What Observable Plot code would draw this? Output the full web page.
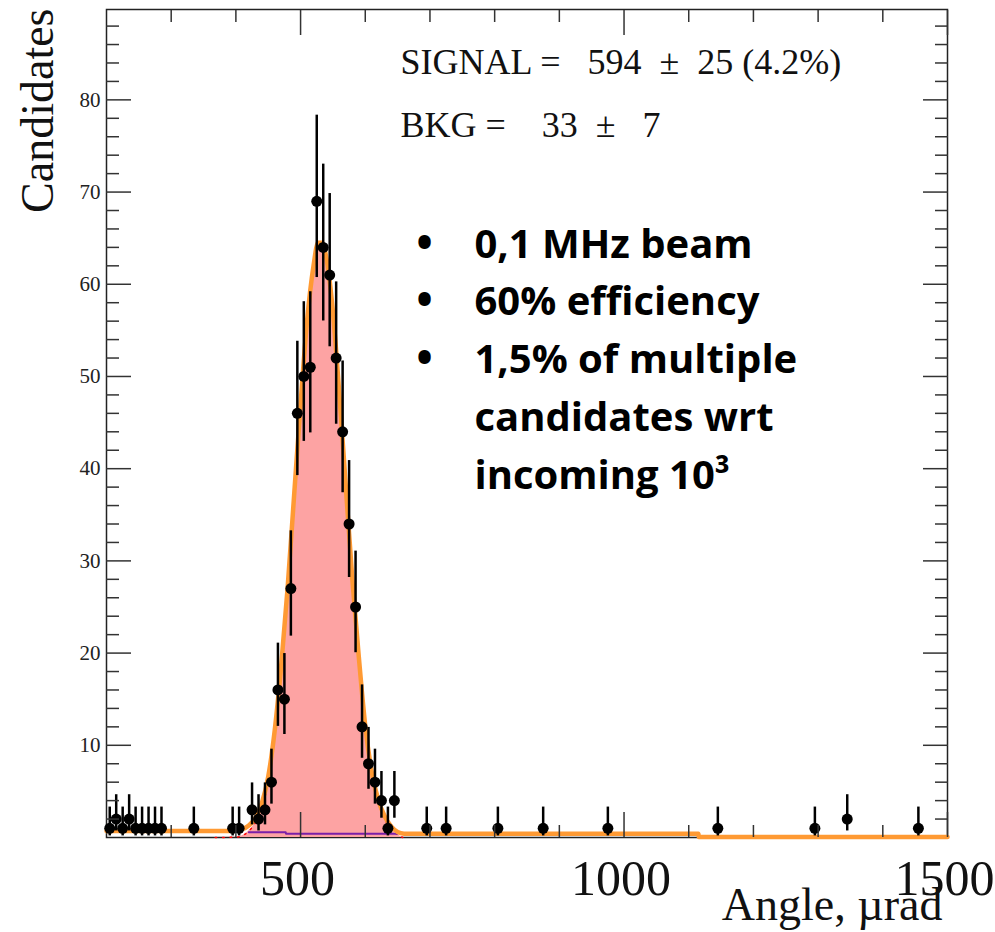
<!DOCTYPE html>
<html>
<head>
<meta charset="utf-8">
<script src="https://cdn.jsdelivr.net/npm/d3@7"></script>
<script src="https://cdn.jsdelivr.net/npm/@observablehq/plot@0.6"></script>
<style>
  html, body { margin: 0; padding: 0; background: white; }
</style>
</head>
<body>
<div id="chart"></div>
<script>
// ---- data ----
const binCenters = [205,215,225,235,245,255,265,275,285,335,395,405,425,435,445,455,465,475,485,495,505,515,525,535,545,555,565,575,585,595,605,615,625,635,645,695,725,805,875,975,1145,1295,1345,1455];
const counts     = [1,2,1,2,1,1,1,1,1,1,1,1,3,2,3,6,16,15,27,46,50,51,69,64,61,52,44,34,25,12,8,6,4,1,4,1,1,1,1,1,1,1,2,1];
// asymmetric (Poisson) error bar ends
const errLow  = [0.17,0.71,0.17,0.71,0.17,0.17,0.17,0.17,0.17,0.17,0.17,0.17,1.37,0.71,1.37,3.62,12.05,11.17,21.84,39.25,42.96,43.88,60.73,56.02,53.22,44.82,37.39,28.20,20.04,8.59,5.23,3.62,2.09,0.17,2.09,0.17,0.17,0.17,0.17,0.17,0.17,0.17,0.71,0.17];
const errHigh = [3.30,4.64,3.30,4.64,3.30,3.30,3.30,3.30,3.30,3.30,3.30,3.30,5.92,4.64,5.92,9.58,21.08,19.95,33.26,53.82,58.11,59.19,78.34,73.03,69.84,60.26,51.68,40.88,31.06,16.55,11.94,9.58,7.16,3.30,7.16,3.30,3.30,3.30,3.30,3.30,3.30,3.30,4.64,3.30];

// total fit curve (orange)
const fitX     = [200,395,410,420,430,440,450,460,470,480,490,500,510,520,527,533,540,550,560,570,580,590,600,610,620,630,640,650,660,680,1115,1115.5,1500];
const fitTotal = [0.7,0.7,0.9,1.3,2.1,3.7,6.6,11.6,18.6,27.1,37.1,47,56,62,64.5,64.5,62.8,57,48,38,28,19.6,12.1,7.1,4.1,2.3,1.2,0.6,0.42,0.4,0.4,0.05,0.05];

// signal component (pink fill)
const sigX = [368,400,410,420,430,440,450,460,470,480,490,500,510,520,527,533,540,550,560,570,580,590,600,610,620,630,640,650,658];
const sigY = [0,0.05,0.2,0.7,1.6,3.2,6.1,11.1,18.1,26.7,36.8,46.8,55.8,61.8,64.3,64.3,62.6,56.8,47.8,37.8,27.8,19.3,11.8,6.8,3.8,2.0,0.9,0.3,0];

// background component (purple)
const bkgX = [420,477,477.5,650];
const bkgY = [0.57,0.57,0.4,0.4];

// axes
const xMajor = [500,1000,1500];
const xMinor = [300,400,600,700,800,900,1100,1200,1300,1400];
const yMajor = [10,20,30,40,50,60,70,80];
const yMinor = [2,4,6,8,12,14,16,18,22,24,26,28,32,34,36,38,42,44,46,48,52,54,56,58,62,64,66,68,72,74,76,78,82,84,86,88];

// texts
const xTitle = "Angle, \u00B5rad";
const yTitle = "Candidates";
const signalText = "SIGNAL =   594  \u00B1  25 (4.2%)";
const bkgText = "BKG =    33  \u00B1   7";
const bulletLines = ["0,1 MHz beam", "60% efficiency", "1,5% of multiple", "candidates wrt", "incoming 10\u00B3"];
const bulletMarks = ["\u2022", "\u2022", "\u2022"];

const points = binCenters.map((x, i) => ({x, y: counts[i], lo: errLow[i], hi: errHigh[i]}));
const fit = fitX.map((x, i) => ({x, y: fitTotal[i]}));
const sig = sigX.map((x, i) => ({x, y: sigY[i]}));
const bkg = bkgX.map((x, i) => ({x, y: bkgY[i]}));

const tickColor = "#333";
const lineStep = 57.75;   // px between bullet-text baselines
const firstBaseline = 248; // px below the frame top

const chart = Plot.plot({
  width: 995,
  height: 932,
  marginLeft: 106,
  marginRight: 48,
  marginTop: 9,
  marginBottom: 95,
  style: {fontFamily: "Liberation Serif", background: "white", color: "black", whiteSpace: "pre"},
  x: {domain: [200, 1500]},
  y: {domain: [0, 89.8]},
  marks: [
    // frame
    Plot.frame({stroke: "#222", strokeWidth: 1.5}),
    // signal fill
    Plot.areaY(sig, {x: "x", y: "y", fill: "#fda3a3", curve: "monotone-x"}),
    Plot.lineY(sig, {x: "x", y: "y", stroke: "#ff0000", strokeWidth: 1.5, strokeDasharray: "1.5,6", curve: "monotone-x"}),
    // background component
    Plot.lineY(bkg, {x: "x", y: "y", stroke: "#7a1fa8", strokeWidth: 2}),
    // total fit
    Plot.lineY(fit, {x: "x", y: "y", stroke: "#ff9a33", strokeWidth: 4.5, curve: "monotone-x"}),
    // data with error bars
    Plot.ruleX(points, {x: "x", y1: "lo", y2: "hi", stroke: "black", strokeWidth: 2.5}),
    Plot.dot(points, {x: "x", y: "y", r: 5.5, fill: "black", stroke: null}),
    // ticks drawn inside the frame on all four sides
    Plot.axisX({anchor: "bottom", ticks: xMajor, tickSize: -25, text: null, label: null, stroke: tickColor, strokeWidth: 1.5}),
    Plot.axisX({anchor: "bottom", ticks: xMinor, tickSize: -12, text: null, label: null, stroke: tickColor, strokeWidth: 1.5}),
    Plot.axisX({anchor: "top", ticks: xMajor, tickSize: -25, text: null, label: null, stroke: tickColor, strokeWidth: 1.5}),
    Plot.axisX({anchor: "top", ticks: xMinor, tickSize: -12, text: null, label: null, stroke: tickColor, strokeWidth: 1.5}),
    Plot.axisY({anchor: "left", ticks: yMajor, tickSize: -25, text: null, label: null, stroke: tickColor, strokeWidth: 1.5}),
    Plot.axisY({anchor: "left", ticks: yMinor, tickSize: -13, text: null, label: null, stroke: tickColor, strokeWidth: 1.5}),
    Plot.axisY({anchor: "right", ticks: yMajor, tickSize: -25, text: null, label: null, stroke: tickColor, strokeWidth: 1.5}),
    Plot.axisY({anchor: "right", ticks: yMinor, tickSize: -13, text: null, label: null, stroke: tickColor, strokeWidth: 1.5}),
    // tick labels
    Plot.axisX({anchor: "bottom", ticks: xMajor, tickFormat: d => String(d), tickSize: 0, tickPadding: 22, fontSize: 50, dx: -3, label: null, fill: "#111"}),
    Plot.axisY({anchor: "left", ticks: yMajor, tickFormat: d => String(d), tickSize: 0, tickPadding: 6, fontSize: 21, label: null, fill: "#222"}),
    // axis titles
    Plot.text([xTitle], {frameAnchor: "bottom-right", text: d => d, textAnchor: "end", lineAnchor: "bottom", dx: -5, dy: 82, fontSize: 46, fill: "#111"}),
    Plot.text([yTitle], {frameAnchor: "top-left", text: d => d, textAnchor: "end", lineAnchor: "bottom", rotate: -90, dx: -54, dy: -1, fontSize: 46, fill: "#111"}),
    // fit results
    Plot.text([signalText], {frameAnchor: "top-left", text: d => d, textAnchor: "start", lineAnchor: "bottom", dx: 294, dy: 64, fontSize: 36, fill: "#111"}),
    Plot.text([bkgText], {frameAnchor: "top-left", text: d => d, textAnchor: "start", lineAnchor: "bottom", dx: 294, dy: 127, fontSize: 36, fill: "#111"}),
    // bullet list, one text per line
    ...bulletMarks.map((b, i) => Plot.text([b], {frameAnchor: "top-left", text: d => d, textAnchor: "middle", lineAnchor: "bottom", dx: 318, dy: firstBaseline + i * lineStep, fontSize: 44, fontFamily: "Open Sans", fontWeight: "bold", fill: "black"})),
    ...bulletLines.map((t, i) => Plot.text([t], {frameAnchor: "top-left", text: d => d, textAnchor: "start", lineAnchor: "bottom", dx: 368, dy: firstBaseline + i * lineStep, fontSize: 40, fontFamily: "Open Sans", fontWeight: "bold", fill: "black"}))
  ]
});
document.getElementById("chart").appendChild(chart);
</script>
</body>
</html>
